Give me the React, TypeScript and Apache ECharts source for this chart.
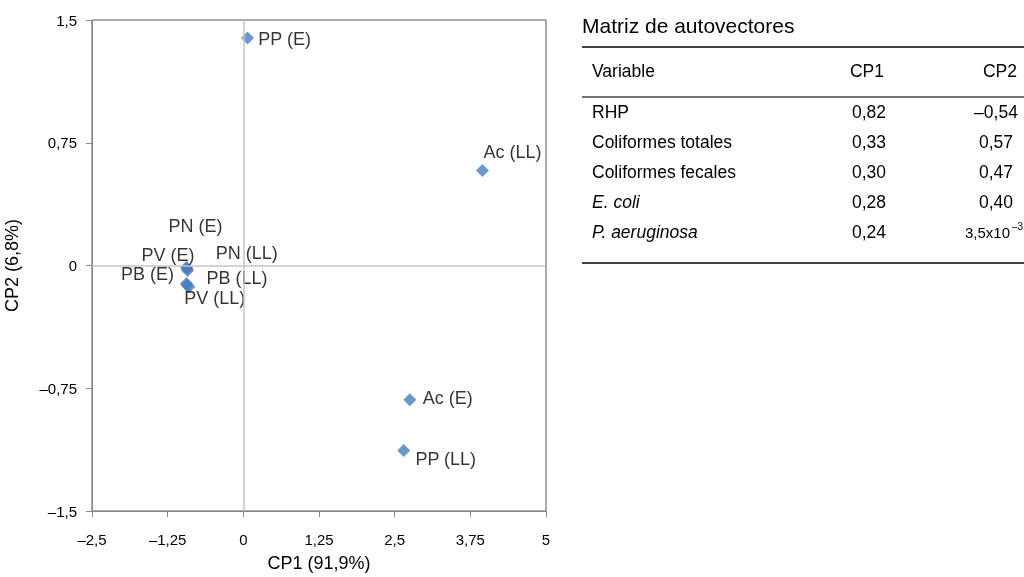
import React, { useEffect, useRef } from "react";
import * as echarts from "echarts";

const pointNames = ["PP (E)", "Ac (LL)", "Ac (E)", "PP (LL)", "PN (E)", "PV (E)", "PN (LL)", "PB (E)", "PB (LL)", "PV (LL)"];
const cp1Values = [0.07, 3.95, 2.75, 2.65, -0.94, -0.93, -0.92, -0.94, -0.93, -0.9];
const cp2Values = [1.39, 0.58, -0.82, -1.13, -0.01, -0.02, -0.03, -0.11, -0.12, -0.13];
// label offsets (layout only)
const labelOffsets = [[37, 1], [30, -19], [38, -2], [42, 9], [9, -41], [-19, -14], [59, -17], [-39, -10], [50, -7], [26, 11]];

const tableTitle = "Matriz de autovectores";
const tableHeaders = ["Variable", "CP1", "CP2"];
const tableVariables = ["RHP", "Coliformes totales", "Coliformes fecales", "E. coli", "P. aeruginosa"];
const tableItalic = [false, false, false, true, true];
const tableCP1 = ["0,82", "0,33", "0,30", "0,28", "0,24"];
const tableCP2 = ["–0,54", "0,57", "0,47", "0,40", "3,5x10"];
const tableCP2Exponent = "–3";

const FONT = "'Liberation Sans', Arial, sans-serif";

function fmt(v: number) {
  return String(v).replace(".", ",").replace("-", "–");
}

export default function App() {
  const ref = useRef<HTMLDivElement>(null);
  useEffect(() => {
    if (!ref.current) return;
    const chart = echarts.init(ref.current, null, { renderer: "svg" });
    const data = pointNames.map((n, i) => ({
      value: [cp1Values[i], cp2Values[i]],
      name: n,
      label: { offset: labelOffsets[i] },
    }));
    const rowY = [112, 142, 172, 202, 232];
    const txt = (text: string, x: number, y: number, size: number, align = "left", italic = false) => ({
      type: "text",
      x,
      y,
      style: { text, font: `${italic ? "italic " : ""}${size}px ${FONT}`, fill: "#000", align, verticalAlign: "middle" },
    });
    const graphics: any[] = [
      txt(tableTitle, 582, 25, 21),
      { type: "line", shape: { x1: 582, y1: 47, x2: 1024, y2: 47 }, style: { stroke: "#444", lineWidth: 2 } },
      txt(tableHeaders[0], 592, 71, 17.5),
      txt(tableHeaders[1], 867, 71, 17.5, "center"),
      txt(tableHeaders[2], 1000, 71, 17.5, "center"),
      { type: "line", shape: { x1: 582, y1: 97, x2: 1024, y2: 97 }, style: { stroke: "#444", lineWidth: 1.5 } },
      { type: "line", shape: { x1: 582, y1: 263, x2: 1024, y2: 263 }, style: { stroke: "#444", lineWidth: 2 } },
    ];
    tableVariables.forEach((v, i) => {
      graphics.push(txt(v, 592, rowY[i], 17.5, "left", tableItalic[i]));
      graphics.push(txt(tableCP1[i], 869, rowY[i], 17.5, "center"));
      if (i < tableVariables.length - 1) {
        graphics.push(txt(tableCP2[i], 996, rowY[i], 17.5, "center"));
      } else {
        graphics.push(txt(tableCP2[i], 965, rowY[i], 15));
        graphics.push(txt(tableCP2Exponent, 1012, rowY[i] - 6, 10));
      }
    });
    chart.setOption({
      animation: false,
      grid: { left: 92, right: 478, top: 20, bottom: 66, show: true, borderColor: "#555", borderWidth: 1 },
      xAxis: {
        type: "value", min: -2.5, max: 5, interval: 1.25,
        name: "CP1 (91,9%)", nameLocation: "middle", nameGap: 43,
        nameTextStyle: { fontFamily: FONT, fontSize: 18, color: "#000" },
        axisLine: { show: true, onZero: false, lineStyle: { color: "#888" } },
        axisTick: { show: true, length: 6, lineStyle: { color: "#888" } },
        splitLine: { show: false },
        axisLabel: { formatter: (v: number) => fmt(v), fontFamily: FONT, fontSize: 15, color: "#000", margin: 21 },
      },
      yAxis: {
        type: "value", min: -1.5, max: 1.5, interval: 0.75,
        name: "CP2 (6,8%)", nameLocation: "middle", nameGap: 80, nameRotate: 90,
        nameTextStyle: { fontFamily: FONT, fontSize: 18, color: "#000", verticalAlign: "middle" },
        axisLine: { show: true, onZero: false, lineStyle: { color: "#888" } },
        axisTick: { show: true, length: 6, lineStyle: { color: "#888" } },
        splitLine: { show: false },
        axisLabel: { formatter: (v: number) => fmt(v), fontFamily: FONT, fontSize: 15, color: "#000", margin: 15 },
      },
      graphic: graphics,
      series: [
        {
          type: "scatter",
          symbol: "diamond",
          symbolSize: 13,
          itemStyle: { color: "#4a7ebb" },
          data,
          label: {
            show: true,
            position: "inside",
            formatter: "{b}",
            fontFamily: FONT,
            fontSize: 18,
            color: "#000",
          },
          markLine: {
            silent: true,
            symbol: "none",
            label: { show: false },
            lineStyle: { color: "#c4c4c4", type: "solid", width: 1.5 },
            data: [{ xAxis: 0 }, { yAxis: 0 }],
          },
          z: 3,
        },
      ],
    });
    return () => chart.dispose();
  }, []);
  return <div ref={ref} style={{ position: "fixed", left: 0, top: 0, width: 1024, height: 577 }} />;
}
